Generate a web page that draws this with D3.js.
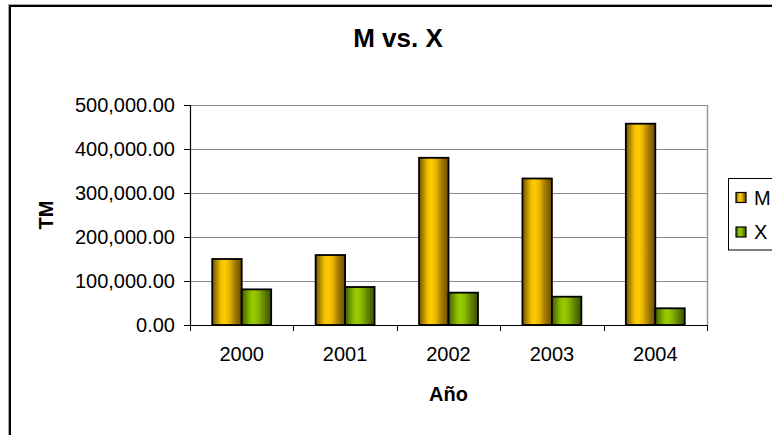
<!DOCTYPE html>
<html>
<head>
<meta charset="utf-8">
<script src="https://cdn.jsdelivr.net/npm/d3@7"></script>
<style>
  html, body { margin: 0; padding: 0; background: #fff; }
  svg { display: block; font-family: "Liberation Sans", Arial, sans-serif; }
</style>
</head>
<body>
<svg id="chart" width="772" height="435"></svg>
<script>
// Annual tonnage (TM), M and X series
const years = ["2000", "2001", "2002", "2003", "2004"];
const seriesNames = ["M", "X"];
const valuesM = [150000, 159000, 380000, 333000, 457500];
const valuesX = [81000, 86400, 73500, 64300, 38000];
const yTicks = [0, 100000, 200000, 300000, 400000, 500000];

const svg = d3.select("#chart");
const W = 772, H = 435;
const plot = { left: 190, right: 707, top: 105, bottom: 325 };

// Outer chart frame (runs past the right and bottom edges)
svg.append("rect").attr("x", 8.5).attr("y", 4.5).attr("width", W + 20).attr("height", H + 20)
  .attr("fill", "none").attr("stroke", "#aaa").attr("stroke-width", 1);
svg.append("rect").attr("x", 10).attr("y", 6).attr("width", W + 20).attr("height", H + 20)
  .attr("fill", "#fff").attr("stroke", "#000").attr("stroke-width", 2);

// Cylinder-like shading for bars
const defs = svg.append("defs");
const shades = {
  M: [["0%", "#6e5400"], ["12%", "#a67f00"], ["30%", "#f2c200"], ["42%", "#ffcc00"], ["58%", "#e6b400"], ["78%", "#a07800"], ["100%", "#684e00"]],
  X: [["0%", "#3d5500"], ["12%", "#5f8500"], ["30%", "#8fbf00"], ["42%", "#99cc00"], ["58%", "#86b300"], ["78%", "#5e8000"], ["100%", "#3a5000"]]
};
seriesNames.forEach(s => {
  const g = defs.append("linearGradient").attr("id", "grad" + s)
    .attr("x1", "0%").attr("x2", "100%").attr("y1", "0%").attr("y2", "0%");
  shades[s].forEach(([o, c]) => g.append("stop").attr("offset", o).attr("stop-color", c));
});

// Scales
const x0 = d3.scaleBand().domain(years).range([plot.left, plot.right]).paddingInner(0).paddingOuter(0);
const x1 = d3.scaleBand().domain(seriesNames)
  .range([x0.bandwidth() * 0.215, x0.bandwidth() * 0.785]).padding(0);
const y = d3.scaleLinear().domain([0, 500000]).range([plot.bottom, plot.top]);

// Gridlines
svg.append("g").selectAll("line").data(yTicks.filter(d => d > 0)).join("line")
  .attr("x1", plot.left).attr("x2", plot.right)
  .attr("y1", d => Math.round(y(d)) + 0.5).attr("y2", d => Math.round(y(d)) + 0.5)
  .attr("stroke", "#8a8a8a").attr("stroke-width", 1);
// Plot-area right edge
svg.append("line").attr("x1", plot.right + 0.5).attr("x2", plot.right + 0.5)
  .attr("y1", plot.top).attr("y2", plot.bottom).attr("stroke", "#9a9a9a").attr("stroke-width", 1.5);

// Bars
const table = years.map((yr, i) => ({ year: yr, M: valuesM[i], X: valuesX[i] }));
const groups = svg.append("g").selectAll("g").data(table).join("g")
  .attr("transform", d => `translate(${x0(d.year)},0)`);
groups.selectAll("rect").data(d => seriesNames.map(s => ({ key: s, value: d[s] }))).join("rect")
  .attr("x", d => x1(d.key))
  .attr("width", x1.bandwidth())
  .attr("y", d => y(d.value))
  .attr("height", d => y(0) - y(d.value))
  .attr("fill", d => `url(#grad${d.key})`)
  .attr("stroke", "#000").attr("stroke-width", 1.8);

// Y axis
const fmt = d3.format(",.2f");
const yAxis = svg.append("g").attr("transform", `translate(${plot.left},0)`)
  .call(d3.axisLeft(y).tickValues(yTicks).tickFormat(fmt).tickSize(6).tickPadding(9));
yAxis.select(".domain").attr("stroke", "#000").attr("stroke-width", 1.2);
yAxis.selectAll(".tick line").attr("stroke", "#000");
yAxis.selectAll("text").attr("font-size", 20).attr("fill", "#000")
  .attr("font-family", "'Liberation Sans', Arial, sans-serif");

// X axis: labels centred in each band, ticks on band boundaries
const xAxis = svg.append("g").attr("transform", `translate(0,${plot.bottom})`)
  .call(d3.axisBottom(x0).tickSize(0).tickPadding(22).tickSizeOuter(0));
xAxis.select(".domain").attr("stroke", "#000").attr("stroke-width", 1.2);
xAxis.selectAll("text").attr("font-size", 20).attr("fill", "#000")
  .attr("font-family", "'Liberation Sans', Arial, sans-serif");
const edges = years.map(d => x0(d)).concat([x0.range()[1]]);
svg.append("g").selectAll("line").data(edges).join("line")
  .attr("x1", d => Math.round(d) + 0.5).attr("x2", d => Math.round(d) + 0.5)
  .attr("y1", plot.bottom).attr("y2", plot.bottom + 6)
  .attr("stroke", "#000").attr("stroke-width", 1);

// Titles
svg.append("text").attr("x", 398).attr("y", 47).attr("text-anchor", "middle")
  .attr("font-size", 26).attr("font-weight", "bold").text("M vs. X");
svg.append("text").attr("x", (plot.left + plot.right) / 2).attr("y", 401)
  .attr("text-anchor", "middle").attr("font-size", 20).attr("font-weight", "bold").text("Año");
svg.append("text").attr("transform", `translate(53,${(plot.top + plot.bottom) / 2}) rotate(-90)`)
  .attr("text-anchor", "middle").attr("font-size", 20).attr("font-weight", "bold").text("TM");

// Legend
const legend = svg.append("g");
legend.append("rect").attr("x", 728.5).attr("y", 178.5).attr("width", 80).attr("height", 71.5)
  .attr("fill", "#fff").attr("stroke", "#000").attr("stroke-width", 1);
const legY = d3.scalePoint().domain(seriesNames).range([197.5, 232]);
const items = legend.selectAll("g.item").data(seriesNames).join("g").attr("class", "item")
  .attr("transform", d => `translate(0,${legY(d)})`);
items.append("rect").attr("x", 736).attr("y", -5).attr("width", 10).attr("height", 10)
  .attr("fill", d => `url(#grad${d})`).attr("stroke", "#000").attr("stroke-width", 1.2);
items.append("text").attr("x", 754).attr("y", 0).attr("dy", "0.36em")
  .attr("font-size", 20).text(d => d);
</script>
</body>
</html>
